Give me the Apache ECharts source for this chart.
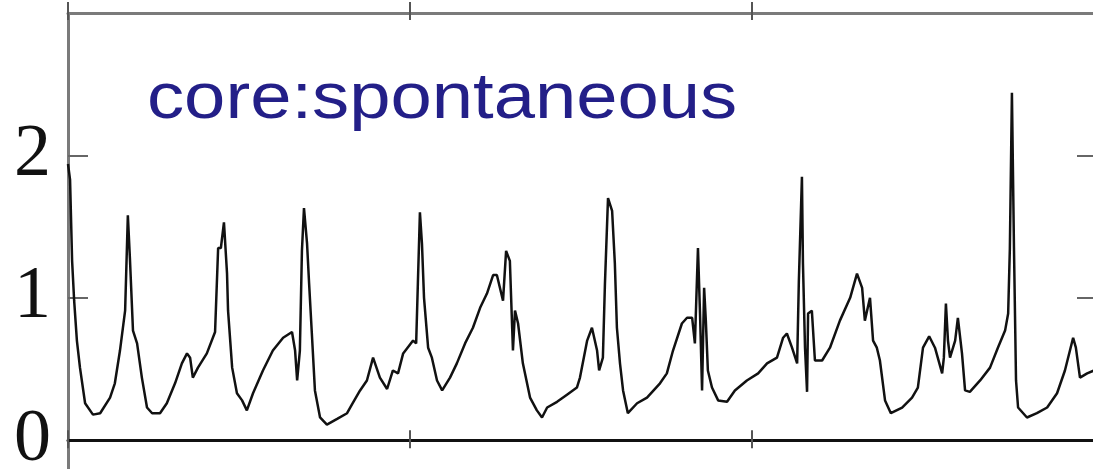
<!DOCTYPE html>
<html>
<head>
<meta charset="utf-8">
<script src="https://cdn.jsdelivr.net/npm/echarts@6/dist/echarts.min.js"></script>
<style>
html,body{margin:0;padding:0;background:#fff;overflow:hidden;}
#chart{width:1110px;height:500px;}
</style>
</head>
<body>
<div id="chart"></div>
<script>
// time (axis units, 3 tick intervals visible)
var timeValues = [
  0, 0.006, 0.012, 0.018, 0.026, 0.035, 0.050, 0.073, 0.094, 0.123,
  0.137, 0.152, 0.167, 0.175, 0.181, 0.190, 0.202, 0.216, 0.231, 0.246,
  0.269, 0.289, 0.313, 0.333, 0.348, 0.357, 0.365, 0.380, 0.406, 0.430,
  0.439, 0.447, 0.456, 0.465, 0.468, 0.480, 0.494, 0.509, 0.523, 0.541,
  0.570, 0.599, 0.629, 0.655, 0.664, 0.670, 0.678, 0.684, 0.690, 0.699,
  0.705, 0.713, 0.722, 0.737, 0.757, 0.787, 0.816, 0.830, 0.854, 0.874,
  0.892, 0.912, 0.933, 0.950, 0.965, 0.980, 1.009, 1.018, 1.023, 1.029,
  1.035, 1.041, 1.053, 1.064, 1.079, 1.094, 1.117, 1.137, 1.161, 1.184,
  1.205, 1.225, 1.243, 1.254, 1.272, 1.281, 1.292, 1.301, 1.307, 1.316,
  1.330, 1.351, 1.371, 1.386, 1.401, 1.430, 1.459, 1.488, 1.497, 1.518,
  1.532, 1.547, 1.553, 1.564, 1.570, 1.579, 1.591, 1.599, 1.605, 1.614,
  1.623, 1.637, 1.664, 1.693, 1.731, 1.751, 1.769, 1.795, 1.810, 1.825,
  1.833, 1.842, 1.848, 1.854, 1.860, 1.865, 1.871, 1.883, 1.901, 1.927,
  1.950, 1.985, 2.018, 2.044, 2.073, 2.091, 2.102, 2.117, 2.132, 2.137,
  2.146, 2.149, 2.155, 2.161, 2.164, 2.175, 2.184, 2.205, 2.228, 2.257,
  2.287, 2.307, 2.322, 2.330, 2.345, 2.354, 2.365, 2.374, 2.389, 2.406,
  2.439, 2.468, 2.485, 2.500, 2.518, 2.535, 2.556, 2.561, 2.567, 2.573,
  2.579, 2.594, 2.602, 2.614, 2.623, 2.637, 2.667, 2.696, 2.719, 2.740,
  2.749, 2.754, 2.760, 2.766, 2.772, 2.778, 2.804, 2.833, 2.863, 2.892,
  2.915, 2.939, 2.947, 2.959, 2.980, 3.000
];
// signal values
var signalValues = [
  1.94, 1.83, 1.26, 0.98, 0.70, 0.51, 0.26, 0.18, 0.19, 0.30,
  0.40, 0.63, 0.91, 1.58, 1.28, 0.77, 0.68, 0.44, 0.23, 0.19,
  0.19, 0.26, 0.40, 0.54, 0.61, 0.58, 0.44, 0.51, 0.61, 0.76,
  1.35, 1.35, 1.53, 1.17, 0.91, 0.51, 0.33, 0.28, 0.21, 0.33,
  0.49, 0.63, 0.72, 0.76, 0.63, 0.42, 0.63, 1.33, 1.63, 1.38,
  1.10, 0.75, 0.35, 0.16, 0.11, 0.15, 0.19, 0.25, 0.35, 0.42,
  0.58, 0.44, 0.36, 0.49, 0.47, 0.61, 0.70, 0.68, 1.10, 1.60,
  1.38, 1.00, 0.65, 0.58, 0.42, 0.35, 0.44, 0.54, 0.68, 0.79,
  0.93, 1.03, 1.16, 1.16, 0.98, 1.33, 1.26, 0.63, 0.91, 0.82,
  0.54, 0.30, 0.21, 0.16, 0.23, 0.27, 0.32, 0.37, 0.44, 0.70,
  0.79, 0.63, 0.49, 0.58, 1.10, 1.70, 1.61, 1.24, 0.79, 0.54,
  0.35, 0.19, 0.26, 0.30, 0.40, 0.47, 0.63, 0.82, 0.86, 0.86,
  0.68, 1.35, 0.89, 0.35, 1.07, 0.84, 0.49, 0.37, 0.28, 0.27,
  0.35, 0.42, 0.47, 0.54, 0.58, 0.72, 0.75, 0.65, 0.54, 1.12,
  1.85, 1.24, 0.65, 0.34, 0.89, 0.91, 0.56, 0.56, 0.65, 0.84,
  1.00, 1.17, 1.07, 0.84, 1.00, 0.70, 0.65, 0.56, 0.28, 0.19,
  0.23, 0.30, 0.37, 0.65, 0.73, 0.65, 0.47, 0.58, 0.96, 0.70,
  0.58, 0.70, 0.86, 0.61, 0.35, 0.34, 0.42, 0.51, 0.65, 0.77,
  0.89, 1.35, 2.44, 1.35, 0.42, 0.23, 0.16, 0.19, 0.23, 0.33,
  0.49, 0.72, 0.65, 0.44, 0.47, 0.49
];
var yTickValues = [1, 2];
var yLabelValues = [0, 1, 2];
var labelText = 'core:spontaneous';

var seriesData = timeValues.map(function (t, i) { return [t, signalValues[i]]; });

var chart = echarts.init(document.getElementById('chart'), null, {renderer: 'canvas'});
var gray = '#7a7a7a';
var hideLabel = {show: false};
var option = {
  backgroundColor: '#ffffff',
  animation: false,
  grid: {left: 68, right: 16, top: 13, bottom: 17, containLabel: false, outerBoundsMode: 'none'},
  xAxis: [
    {type: 'value', min: 0, max: 3, interval: 1, position: 'bottom',
     axisLine: {show: true, onZero: true, lineStyle: {color: '#111', width: 3}},
     axisTick: {show: true, inside: true, length: 10, lineStyle: {color: '#555', width: 2}},
     axisLabel: hideLabel, splitLine: {show: false}},
    {type: 'value', min: 0, max: 3, interval: 1, position: 'bottom',
     axisLine: {show: false, onZero: true},
     axisTick: {show: true, inside: false, length: 8, lineStyle: {color: '#555', width: 2}},
     axisLabel: hideLabel, splitLine: {show: false}},
    {type: 'value', min: 0, max: 3, interval: 1, position: 'top',
     axisLine: {show: true, onZero: false, lineStyle: {color: gray, width: 3}},
     axisTick: {show: true, inside: true, length: 7, lineStyle: {color: '#555', width: 2}},
     axisLabel: hideLabel, splitLine: {show: false}},
    {type: 'value', min: 0, max: 3, interval: 1, position: 'top',
     axisLine: {show: false, onZero: false},
     axisTick: {show: true, inside: false, length: 11, lineStyle: {color: '#555', width: 2}},
     axisLabel: hideLabel, splitLine: {show: false}}
  ],
  yAxis: [
    {type: 'value', min: -0.3, max: 3, position: 'left',
     axisLine: {show: true, onZero: false, lineStyle: {color: gray, width: 3}},
     axisTick: {show: true, inside: true, length: 20, customValues: yTickValues, lineStyle: {color: '#666', width: 2}},
     axisLabel: {show: true, customValues: yLabelValues, margin: 17, color: '#111',
                 fontFamily: 'Liberation Serif', fontSize: 74},
     splitLine: {show: false}},
    {type: 'value', min: -0.3, max: 3, position: 'right',
     axisLine: {show: true, onZero: false, lineStyle: {color: gray, width: 3}},
     axisTick: {show: true, inside: true, length: 17, customValues: yTickValues, lineStyle: {color: '#666', width: 2}},
     axisLabel: hideLabel, splitLine: {show: false}}
  ],
  graphic: [
    {type: 'text', x: 147, y: 68, scaleX: 1.16, scaleY: 1, z: 100,
     style: {text: labelText, fill: '#231f88', font: '64px "Liberation Sans"',
             textAlign: 'left', textVerticalAlign: 'top'}}
  ],
  series: [
    {type: 'line', xAxisIndex: 0, yAxisIndex: 0, data: seriesData,
     showSymbol: false, symbol: 'none', smooth: false,
     lineStyle: {color: '#111', width: 2.5}, z: 3}
  ]
};
chart.setOption(option);
</script>
</body>
</html>
